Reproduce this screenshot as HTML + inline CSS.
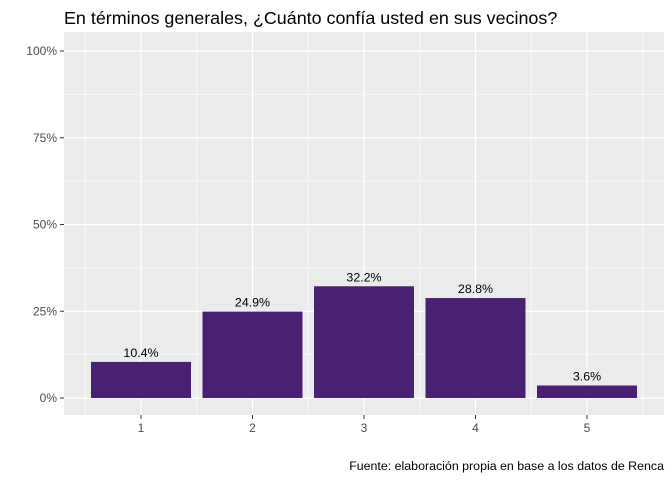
<!DOCTYPE html>
<html><head><meta charset="utf-8"><style>
body{margin:0;background:#fff;font-family:"Liberation Sans",Arial,sans-serif;}
svg text{font-family:"Liberation Sans",Arial,sans-serif;}
</style></head><body>
<svg id="c" width="672" height="480" xmlns="http://www.w3.org/2000/svg">
<text x="64" y="24" font-size="17.9" fill="#000">En términos generales, ¿Cuánto confía usted en sus vecinos?</text>
<rect x="64" y="32" width="600" height="383" fill="#EBEBEB"/>
<g id="grid"></g><g id="bars"></g><g id="axes"></g>
<text x="664" y="470" font-size="12.4" text-anchor="end" fill="#000">Fuente: elaboración propia en base a los datos de Renca</text>
</svg>
<script>
const categories=["1","2","3","4","5"];
const values=[10.4,24.9,32.2,28.8,3.6];
const yTicks=[0,25,50,75,100];
const yTickLabels=["0%","25%","50%","75%","100%"];
const NS="http://www.w3.org/2000/svg";
function y(v){return 398-v*3.47;}
function x(i){return 141+i*111.5;}
function mk(t,a,p){const e=document.createElementNS(NS,t);for(const k in a)e.setAttribute(k,a[k]);p.appendChild(e);return e;}
const g=document.getElementById('grid'),b=document.getElementById('bars'),ax=document.getElementById('axes');
for(let i=0;i<yTicks.length-1;i++){const m=(yTicks[i]+yTicks[i+1])/2;
const l=mk('line',{x1:64,x2:664,y1:y(m),y2:y(m),stroke:'#fff','stroke-width':0.6},g);
}
for(let i=0;i<=categories.length;i++){const l=mk('line',{x1:x(i-0.5),x2:x(i-0.5),y1:32,y2:415,stroke:'#fff','stroke-width':0.6},g);
}
yTicks.forEach((t,i)=>{const l=mk('line',{x1:64,x2:664,y1:y(t),y2:y(t),stroke:'#fff','stroke-width':1.2},g);

const tk=mk('line',{x1:60,x2:64,y1:y(t),y2:y(t),stroke:'#333','stroke-width':1},ax);

const tx=mk('text',{x:57,y:y(t)+4,'font-size':12,'text-anchor':'end',fill:'#4D4D4D'},ax);tx.textContent=yTickLabels[i];
});
categories.forEach((c,i)=>{const l=mk('line',{x1:x(i),x2:x(i),y1:32,y2:415,stroke:'#fff','stroke-width':1.2},g);

const r=mk('rect',{x:x(i)-50,y:y(values[i]),width:100,height:y(0)-y(values[i]),fill:'#482173'},b);

const lb=mk('text',{x:x(i),y:y(values[i])-5,'font-size':12.4,'text-anchor':'middle',fill:'#000'},b);lb.textContent=values[i].toFixed(1)+'%';

const tk=mk('line',{x1:x(i),x2:x(i),y1:415,y2:419,stroke:'#333','stroke-width':1},ax);

const tx=mk('text',{x:x(i),y:432,'font-size':12,'text-anchor':'middle',fill:'#4D4D4D'},ax);tx.textContent=c;
});
</script>
</body></html>
